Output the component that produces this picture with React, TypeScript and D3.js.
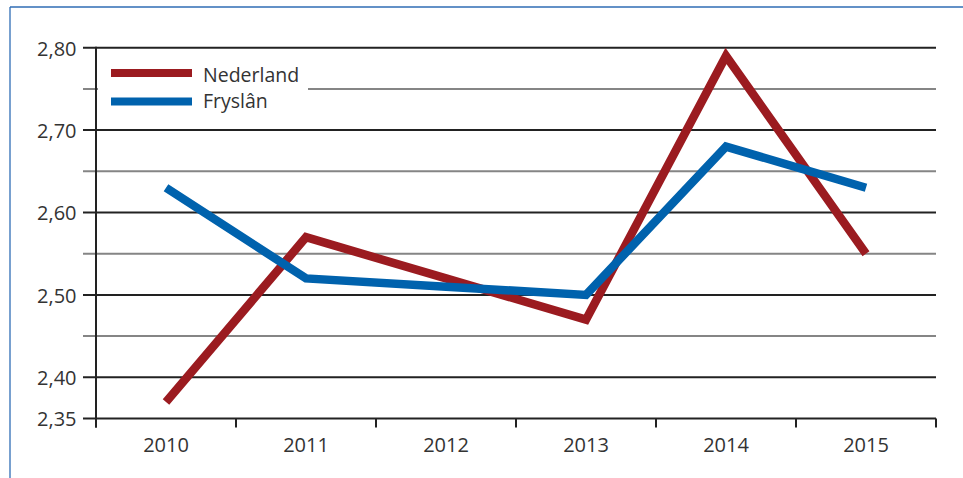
import React from "react";
import * as d3 from "d3";

const years = ["2010", "2011", "2012", "2013", "2014", "2015"];
const nederland = [2.37, 2.57, 2.52, 2.47, 2.79, 2.55];
const fryslan = [2.63, 2.52, 2.51, 2.5, 2.68, 2.63];
const majorTicks = [2.35, 2.4, 2.5, 2.6, 2.7, 2.8];
const gridMajor = [2.4, 2.5, 2.6, 2.7, 2.8];
const gridMinor = [2.45, 2.55, 2.65, 2.75];
const seriesNames = ["Nederland", "Fryslân"];
const seriesColors = ["#9b1b20", "#0062ad"];

const W = 963;
const H = 478;
const left = 96;
const right = 936;
const top = 47.7;
const bottom = 418.5;
const font = "'Open Sans', 'Noto Sans', sans-serif";

export default function App() {
  const x = d3.scaleBand<string>().domain(years).range([left, right]).padding(0);
  const y = d3.scaleLinear().domain([2.35, 2.8]).range([bottom, top]);
  const line = d3
    .line<number>()
    .x((_, i) => (x(years[i]) as number) + x.bandwidth() / 2)
    .y((d) => y(d));
  const fmt = (v: number) => v.toFixed(2).replace(".", ",");
  const series = [nederland, fryslan];
  const boundaries = [...years.map((yr) => x(yr) as number), right];

  return (
    <svg width={W} height={H} style={{ position: "absolute", left: 0, top: 0, background: "#fff" }}>
      <rect x={0} y={0} width={W} height={H} fill="#fff" />
      <line x1={10} y1={7} x2={W} y2={7} stroke="#2f6db5" strokeWidth={1.3} />
      <line x1={10} y1={7} x2={10} y2={H} stroke="#2f6db5" strokeWidth={1.3} />
      {gridMinor.map((v) => (
        <line key={"mi" + v} x1={83} x2={right} y1={y(v)} y2={y(v)} stroke="#858585" strokeWidth={2} />
      ))}
      {gridMajor.map((v) => (
        <line key={"ma" + v} x1={83} x2={right} y1={y(v)} y2={y(v)} stroke="#222" strokeWidth={2} />
      ))}
      {/* legend background */}
      <rect x={98} y={53} width={210} height={70} fill="#fff" />
      {/* axes */}
      <line x1={83} x2={right} y1={bottom} y2={bottom} stroke="#222" strokeWidth={2} />
      <line x1={left} x2={left} y1={top - 1} y2={bottom + 9} stroke="#222" strokeWidth={2} />
      {boundaries.map((bx, i) => (
        <line key={"xt" + i} x1={bx} x2={bx} y1={bottom} y2={bottom + 9} stroke="#222" strokeWidth={2} />
      ))}
      {majorTicks.map((v) => (
        <text key={"yl" + v} x={76.5} y={y(v) + 7.8} textAnchor="end" fontFamily={font} fontSize={20} fill="#333">
          {fmt(v)}
        </text>
      ))}
      {years.map((yr) => (
        <text
          key={"xl" + yr}
          x={(x(yr) as number) + x.bandwidth() / 2}
          y={452.3}
          textAnchor="middle"
          fontFamily={font}
          fontSize={20}
          fill="#333"
        >
          {yr}
        </text>
      ))}
      {series.map((s, i) => (
        <path
          key={"s" + i}
          d={line(s) as string}
          fill="none"
          stroke={seriesColors[i]}
          strokeWidth={8.5}
          strokeLinejoin="miter"
          strokeLinecap="butt"
        />
      ))}
      {seriesNames.map((n, i) => (
        <g key={"lg" + i}>
          <line x1={111} x2={192} y1={73 + i * 28.5} y2={73 + i * 28.5} stroke={seriesColors[i]} strokeWidth={8} />
          <text x={203} y={81.7 + i * 26.5} fontFamily={font} fontSize={19.5} fill="#333">
            {n}
          </text>
        </g>
      ))}
    </svg>
  );
}
